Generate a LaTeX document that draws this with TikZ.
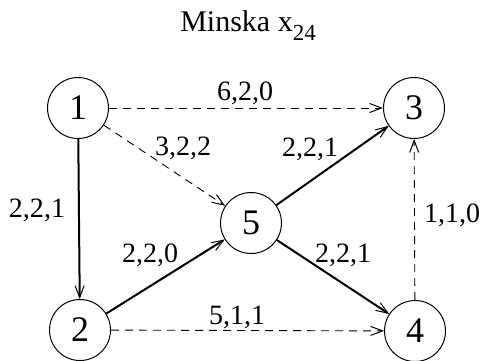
\documentclass[tikz,border=0pt]{standalone}
\usepackage{fontspec}
\setmainfont{Liberation Serif}
\usepackage{tikz}
\usetikzlibrary{arrows.meta,positioning}

\begin{document}
\begin{tikzpicture}[x=1pt,y=-1pt,
    vertex/.style={draw,circle,line width=1pt,minimum size=61pt,inner sep=0pt,font=\fontsize{36}{36}\selectfont},
    flow/.style={line width=2pt,-{Straight Barb[length=12pt,width=9pt,line width=1pt]}},
    spare/.style={line width=0.9pt,dash pattern=on 8pt off 6pt,-{Straight Barb[length=12pt,width=9pt,line width=1pt]}},
    lab/.style={anchor=base,inner sep=0pt,font=\fontsize{28}{28}\selectfont}]
    \useasboundingbox (0,0) rectangle (486,360);
    \node[anchor=base,inner sep=0pt,font=\fontsize{30}{30}\selectfont] (title) at (248,31)
        {Minska x\raisebox{-9pt}{\fontsize{23}{23}\selectfont 24}};
    \node[vertex] (n1) at (78,108) {1};
    \node[vertex] (n3) at (414,108) {3};
    \node[vertex] (n5) at (251,223) {5};
    \node[vertex] (n2) at (80,330) {2};
    \node[vertex] (n4) at (415,331) {4};
    \draw[spare] (n1) -- (n3);
    \draw[spare] (n1) -- (n5);
    \draw[flow] (n1) -- (n2);
    \draw[flow] (n2) -- (n5);
    \draw[flow] (n5) -- (n3);
    \draw[flow] (n5) -- (n4);
    \draw[spare] (n2) -- (n4);
    \draw[spare] (n4) -- (n3);
    \node[lab] (c13) at (245,100) {6,2,0};
    \node[lab] (c15) at (183,155) {3,2,2};
    \node[lab] (c53) at (310,156) {2,2,1};
    \node[lab] (c12) at (37,217) {2,2,1};
    \node[lab] (c43) at (452,222) {1,1,0};
    \node[lab] (c25) at (150,262) {2,2,0};
    \node[lab] (c54) at (343,262) {2,2,1};
    \node[lab] (c24) at (237,324) {5,1,1};
\end{tikzpicture}
\end{document}
